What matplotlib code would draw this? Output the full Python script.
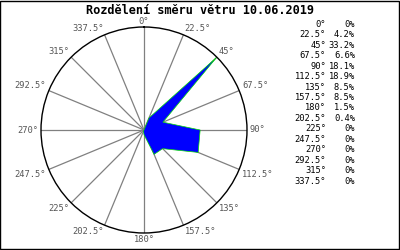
import numpy as np
import matplotlib.pyplot as plt
from matplotlib.patches import Rectangle

# wind direction data (degrees, percent)
directions = [0, 22.5, 45, 67.5, 90, 112.5, 135, 157.5,
              180, 202.5, 225, 247.5, 270, 292.5, 315, 337.5]
percent = [0, 4.2, 33.2, 6.6, 18.1, 18.9, 8.5, 8.5,
           1.5, 0.4, 0, 0, 0, 0, 0, 0]
dir_labels = ["0°", "22.5°", "45°", "67.5°", "90°", "112.5°", "135°", "157.5°",
              "180°", "202.5°", "225°", "247.5°", "270°", "292.5°", "315°", "337.5°"]
pct_labels = ["0%", "4.2%", "33.2%", "6.6%", "18.1%", "18.9%", "8.5%", "8.5%",
              "1.5%", "0.4%", "0%", "0%", "0%", "0%", "0%", "0%"]
title = "Rozdělení směru větru 10.06.2019"

mono = "DejaVu Sans Mono"
fig = plt.figure(figsize=(4, 2.5), dpi=100)

# polar axes centred at ~(144,130) px, radius ~103 px
ax = fig.add_axes([0.1025, 0.068, 0.515, 0.824], projection="polar")
ax.set_theta_zero_location("N")
ax.set_theta_direction(-1)
rmax = max(percent)
ax.set_ylim(0, rmax)
ax.grid(False)
ax.set_yticks([])
ax.set_xticks([])

theta = np.deg2rad(directions)
for t in theta:
    ax.plot([t, t], [0, rmax], color="#808080", lw=0.9, zorder=1)

th_closed = np.append(theta, theta[0])
r_closed = np.append(percent, percent[0])
ax.fill(th_closed, r_closed, facecolor="#0000ff", edgecolor="#00dd00",
        lw=0.5, zorder=2)

# direction labels just outside the circle
for t, lab in zip(theta, dir_labels):
    s, c = np.sin(t), np.cos(t)
    ha = "left" if s > 0.01 else ("right" if s < -0.01 else "center")
    va = "bottom" if c > 0.01 else ("top" if c < -0.01 else "center")
    ax.annotate(lab, (t, rmax), xytext=(3 * s, 1.5 * c), textcoords="offset pixels",
                ha=ha, va=va, fontsize=6.3, family=mono, color="#555555",
                annotation_clip=False)

ax.spines["polar"].set_color("black")
ax.spines["polar"].set_linewidth(1)

fig.text(0.5, 0.957, title, ha="center", va="center", fontsize=8.6,
         family=mono, fontweight="bold")

# table on the right
y0 = 24.3
step = 10.45
for i, (d, p) in enumerate(zip(dir_labels, pct_labels)):
    y = 1 - (y0 + i * step) / 250
    fig.text(326 / 400, y, d, ha="right", va="center", fontsize=6.3, family=mono)
    fig.text(355 / 400, y, p, ha="right", va="center", fontsize=6.3, family=mono)

fig.patches.append(Rectangle((0.001, 0.006), 0.997, 0.992, transform=fig.transFigure,
                             fill=False, edgecolor="black", lw=1))

fig.savefig("out.png", dpi=100)
